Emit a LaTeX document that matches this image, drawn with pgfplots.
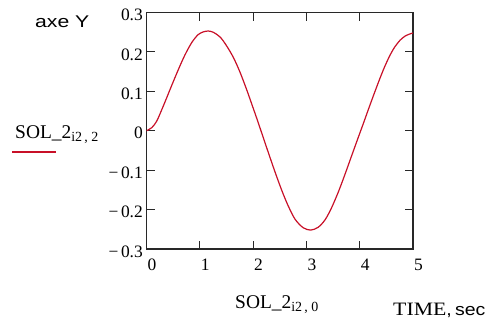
\documentclass[border=0pt]{standalone}
\usepackage{pgfplots}
\pgfplotsset{compat=1.18}
\usepackage{graphicx}
\usepackage{fontspec}
\setmainfont{Liberation Serif}
\newfontfamily\arial{Liberation Sans}
\definecolor{curve}{RGB}{200,16,40}
\definecolor{axcol}{RGB}{40,40,40}
\newcommand\sol[1]{{\fontsize{19.5}{22}\selectfont SOL\_2}\raisebox{-3.5bp}{\fontsize{14}{16}\selectfont i2\,,\ #1}}
\begin{document}
\begin{tikzpicture}
\path[use as bounding box] (0bp,0bp) rectangle (494bp,-325bp);
\begin{axis}[
  at={(146.5bp,-249bp)}, anchor=south west,
  scale only axis, width=266.5bp, height=236.5bp,
  xmin=0, xmax=5, ymin=-0.3, ymax=0.3,
  xtick={0,1,2,3,4,5}, xticklabels={0,1,2,3,4,5},
  ytick={-0.3,-0.2,-0.1,0,0.1,0.2,0.3},
  yticklabels={−\hspace{2.5bp}0.3,−\hspace{2.5bp}0.2,−\hspace{2.5bp}0.1,0,0.1,0.2,0.3},
  tick align=inside, major tick length=8bp,
  xtick pos=both, ytick pos=both,
  xticklabel pos=lower, yticklabel pos=left,
  axis line style={line width=1.1bp, axcol},
  major tick style={line width=1.1bp, axcol},
  xticklabel style={font=\fontsize{17.5}{20}\selectfont, anchor=north, inner sep=0pt, xshift=5.5bp, yshift=-10bp},
  yticklabel style={font=\fontsize{17.5}{20}\selectfont, anchor=east, inner sep=0pt, xshift=-3.5bp, yshift=-2.5bp},
]
\addplot[curve, line width=1.2bp, smooth, tension=0.5] coordinates {
(0,0) (0.10,0.008) (0.19,0.024) (0.285,0.053) (0.38,0.084) (0.47,0.114) (0.60,0.156)
(0.72,0.192) (0.85,0.224) (0.97,0.244) (1.07,0.251) (1.16,0.253) (1.25,0.250)
(1.38,0.238) (1.50,0.216) (1.63,0.186) (1.75,0.150) (1.88,0.104) (2.00,0.058)
(2.08,0.027) (2.16,-0.005) (2.29,-0.057) (2.41,-0.104) (2.54,-0.152) (2.66,-0.191)
(2.79,-0.225) (2.94,-0.246) (3.08,-0.252) (3.22,-0.245) (3.35,-0.226) (3.47,-0.196)
(3.60,-0.155) (3.72,-0.112) (3.85,-0.063) (3.97,-0.018) (4.07,0.019) (4.16,0.053)
(4.26,0.090) (4.38,0.133) (4.47,0.163) (4.57,0.192) (4.66,0.213) (4.76,0.230)
(4.85,0.240) (4.93,0.245) (5.00,0.248)
};
\end{axis}
\node[anchor=base west, inner sep=0pt] at (35bp,-27bp) {\scalebox{1.25}[1]{\arial\fontsize{17}{20}\selectfont axe Y}};
\node[anchor=base west, inner sep=0pt] at (15bp,-138bp) {\sol{2}};
\draw[curve, line width=1.2bp] (12bp,-152bp) -- (56bp,-152bp);
\node[anchor=base west, inner sep=0pt] at (235bp,-308bp) {\sol{0}};
\node[anchor=base west, inner sep=0pt] at (393bp,-315bp) {\scalebox{1.15}[1]{\fontsize{19}{22}\selectfont TIME{\arial\fontsize{17}{20}\selectfont,\,sec}}};
\end{tikzpicture}
\end{document}
